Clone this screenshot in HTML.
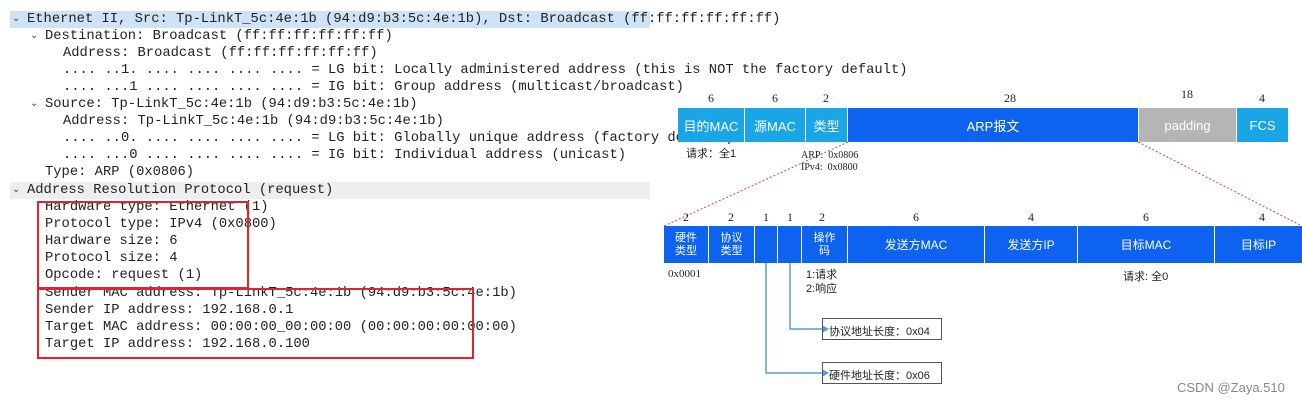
<!DOCTYPE html>
<html><head><meta charset="utf-8"><style>
body{margin:0;width:1302px;height:404px;background:#fff;position:relative;overflow:hidden;font-family:"Liberation Sans","Noto Sans CJK SC",sans-serif}
.m{position:absolute;font-family:"Liberation Mono",monospace;font-size:13.8px;color:#222;white-space:pre;line-height:17px}
.a{position:absolute;font-size:10px;color:#444}
.b{position:absolute;color:#fff;display:flex;align-items:center;justify-content:center;text-align:center;box-sizing:border-box;font-size:13px}
.n{position:absolute;font-family:"Liberation Serif",serif;font-size:12px;color:#222;width:40px;text-align:center}
.t{position:absolute;font-size:11px;color:#222;white-space:pre}
</style></head><body>
<div style="position:absolute;left:10px;top:11px;width:640px;height:17px;background:#cfe3f7"></div>
<div style="position:absolute;left:10px;top:182px;width:640px;height:17px;background:#eee"></div>
<div class="a" style="left:12px;top:13px">⌄</div>
<div class="m" style="left:27px;top:11px">Ethernet II, Src: Tp-LinkT_5c:4e:1b (94:d9:b3:5c:4e:1b), Dst: Broadcast (ff:ff:ff:ff:ff:ff)</div>
<div class="a" style="left:30px;top:30px">⌄</div>
<div class="m" style="left:45px;top:28px">Destination: Broadcast (ff:ff:ff:ff:ff:ff)</div>
<div class="m" style="left:63px;top:45px">Address: Broadcast (ff:ff:ff:ff:ff:ff)</div>
<div class="m" style="left:63px;top:62px">.... ..1. .... .... .... .... = LG bit: Locally administered address (this is NOT the factory default)</div>
<div class="m" style="left:63px;top:79px">.... ...1 .... .... .... .... = IG bit: Group address (multicast/broadcast)</div>
<div class="a" style="left:30px;top:98px">⌄</div>
<div class="m" style="left:45px;top:96px">Source: Tp-LinkT_5c:4e:1b (94:d9:b3:5c:4e:1b)</div>
<div class="m" style="left:63px;top:113px">Address: Tp-LinkT_5c:4e:1b (94:d9:b3:5c:4e:1b)</div>
<div class="m" style="left:63px;top:130px">.... ..0. .... .... .... .... = LG bit: Globally unique address (factory default)</div>
<div class="m" style="left:63px;top:147px">.... ...0 .... .... .... .... = IG bit: Individual address (unicast)</div>
<div class="m" style="left:45px;top:164px">Type: ARP (0x0806)</div>
<div class="a" style="left:12px;top:184px">⌄</div>
<div class="m" style="left:27px;top:182px">Address Resolution Protocol (request)</div>
<div class="m" style="left:45px;top:199px">Hardware type: Ethernet (1)</div>
<div class="m" style="left:45px;top:216px">Protocol type: IPv4 (0x0800)</div>
<div class="m" style="left:45px;top:233px">Hardware size: 6</div>
<div class="m" style="left:45px;top:250px">Protocol size: 4</div>
<div class="m" style="left:45px;top:267px">Opcode: request (1)</div>
<div class="m" style="left:45px;top:285px">Sender MAC address: Tp-LinkT_5c:4e:1b (94:d9:b3:5c:4e:1b)</div>
<div class="m" style="left:45px;top:302px">Sender IP address: 192.168.0.1</div>
<div class="m" style="left:45px;top:319px">Target MAC address: 00:00:00_00:00:00 (00:00:00:00:00:00)</div>
<div class="m" style="left:45px;top:336px">Target IP address: 192.168.0.100</div>
<div style="position:absolute;left:37px;top:201px;width:208px;height:84px;border:2px solid #e0242a"></div>
<div style="position:absolute;left:37px;top:288px;width:433px;height:67px;border:2px solid #e0242a"></div>

<div class="n" style="left:691px;top:91px">6</div><div class="n" style="left:755px;top:91px">6</div><div class="n" style="left:806px;top:91px">2</div><div class="n" style="left:990px;top:91px">28</div><div class="n" style="left:1167px;top:87px">18</div><div class="n" style="left:1242px;top:91px">4</div>
<div class="b" style="left:678px;top:108px;width:66px;height:34px;background:#1aa5e6">目的MAC</div>
<div class="b" style="left:745px;top:108px;width:60px;height:34px;background:#1aa5e6">源MAC</div>
<div class="b" style="left:806px;top:108px;width:41px;height:34px;background:#1aa5e6">类型</div>
<div class="b" style="left:848px;top:108px;width:290px;height:34px;background:#0d63f0">ARP报文</div>
<div class="b" style="left:1139px;top:108px;width:97px;height:34px;background:#b5b5b5">padding</div>
<div class="b" style="left:1237px;top:108px;width:51px;height:34px;background:#1aa5e6">FCS</div>
<div class="t" style="left:686px;top:145px">请求：全1</div>
<div class="t" style="left:801px;top:150px;font-family:'Liberation Serif',serif;font-size:10px;line-height:12px">ARP:  0x0806
IPv4:  0x0800</div>
<svg style="position:absolute;left:0;top:0" width="1302" height="404"><line x1="848" y1="142" x2="664" y2="226" stroke="#d04040" stroke-dasharray="2,2"/><line x1="1138" y1="142" x2="1302" y2="226" stroke="#d04040" stroke-dasharray="2,2"/>
<polyline points="766,262 766,373 822,373" fill="none" stroke="#5b9bd5" stroke-width="1.5"/><polyline points="790,262 790,329 822,329" fill="none" stroke="#5b9bd5" stroke-width="1.5"/>
<path d="M822,325 L829,329 L822,333Z M822,369 L829,373 L822,377Z" fill="#5b9bd5"/></svg>
<div class="n" style="left:666px;top:210px">2</div><div class="n" style="left:711px;top:210px">2</div><div class="n" style="left:746px;top:210px">1</div><div class="n" style="left:770px;top:210px">1</div><div class="n" style="left:802px;top:210px">2</div><div class="n" style="left:896px;top:210px">6</div><div class="n" style="left:1011px;top:210px">4</div><div class="n" style="left:1126px;top:210px">6</div><div class="n" style="left:1242px;top:210px">4</div>
<div class="b" style="left:664px;top:226px;width:44px;height:37px;background:#0d63f0;font-size:11px;line-height:13px">硬件<br>类型</div>
<div class="b" style="left:709px;top:226px;width:45px;height:37px;background:#0d63f0;font-size:11px;line-height:13px">协议<br>类型</div>
<div class="b" style="left:755px;top:226px;width:22px;height:37px;background:#0d63f0"></div>
<div class="b" style="left:778px;top:226px;width:23px;height:37px;background:#0d63f0"></div>
<div class="b" style="left:802px;top:226px;width:45px;height:37px;background:#0d63f0;font-size:11px;line-height:13px">操作<br>码</div>
<div class="b" style="left:848px;top:226px;width:136px;height:37px;background:#0d63f0;font-size:12px">发送方MAC</div>
<div class="b" style="left:985px;top:226px;width:92px;height:37px;background:#0d63f0;font-size:12px">发送方IP</div>
<div class="b" style="left:1078px;top:226px;width:136px;height:37px;background:#0d63f0;font-size:12px">目标MAC</div>
<div class="b" style="left:1215px;top:226px;width:87px;height:37px;background:#0d63f0;font-size:12px">目标IP</div>
<div class="t" style="left:668px;top:268px;font-family:'Liberation Serif',serif">0x0001</div>
<div class="t" style="left:806px;top:268px;line-height:14px">1:请求
2:响应</div>
<div class="t" style="left:1123px;top:268px">请求: 全0</div>
<div class="t" style="left:822px;top:318px;width:120px;height:22px;border:1px solid #555;box-sizing:border-box;padding:4px 0 0 6px">协议地址长度：0x04</div>
<div class="t" style="left:822px;top:362px;width:120px;height:22px;border:1px solid #555;box-sizing:border-box;padding:4px 0 0 6px">硬件地址长度：0x06</div>
<div class="t" style="left:1177px;top:380px;font-size:13px;color:#888">CSDN @Zaya.510</div>
</body></html>
